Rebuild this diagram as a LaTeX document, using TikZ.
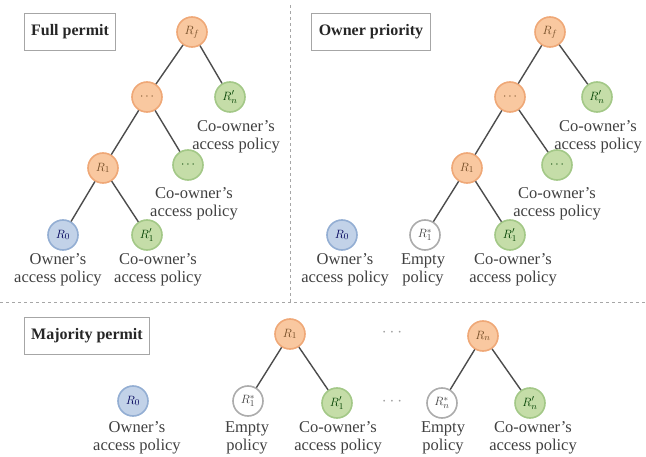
\documentclass[tikz,border=0pt]{standalone}
\usepackage{fontspec}
\setmainfont{Liberation Serif}
\definecolor{ofill}{HTML}{F9C8A0}
\definecolor{odraw}{HTML}{EFA877}
\definecolor{gfill}{HTML}{C5DDA8}
\definecolor{gdraw}{HTML}{A3C887}
\definecolor{bfill}{HTML}{C2D2E8}
\definecolor{bdraw}{HTML}{93AED3}
\begin{document}
\begin{tikzpicture}[x=1pt,y=-1pt,
  nd/.style={circle,minimum size=30pt,inner sep=0pt,line width=1.6pt,font=\fontsize{13}{13}\selectfont},
  orn/.style={nd,fill=ofill,draw=odraw,text=brown!60!black},
  grn/.style={nd,fill=gfill,draw=gdraw,text=green!25!black},
  blu/.style={nd,fill=bfill,draw=bdraw,text=blue!35!black},
  wht/.style={nd,fill=white,draw=gray!65,text=black!75},
  lbl/.style={align=center,font=\fontsize{16.5}{17.5}\selectfont,text=black!75,inner sep=0pt},
  ttl/.style={draw=gray!70,line width=1.2pt,font=\bfseries\fontsize{16}{16}\selectfont,inner xsep=7pt,inner ysep=11pt,text=black!85},
  edg/.style={draw=black!70,line width=1.4pt},
  sep/.style={draw=gray!70,dashed,line width=0.9pt},
  dots/.style={font=\bfseries\fontsize{16}{16}\selectfont,text=gray!75}]
\useasboundingbox (0,0) rectangle (646,457);
% separators
\coordinate (vt) at (290,5);
\coordinate (vb) at (290,302);
\coordinate (hl) at (0,302);
\coordinate (hr) at (646,302);
\draw[sep] (vt) -- (vb);
\draw[sep] (hl) -- (hr);
% titles
\node[ttl] (t1) at (70,32) {Full permit};
\node[ttl] (t2) at (371,32) {Owner priority};
\node[ttl] (t3) at (87,336) {Majority permit};
% ---- Full permit
\node[orn] (a0) at (192,32) {$R_f$};
\node[orn] (a1) at (147,97) {$\cdots$};
\node[grn] (a2) at (230,97) {$R'_n$};
\node[orn] (a3) at (103,168) {$R_1$};
\node[grn] (a4) at (188,165) {$\cdots$};
\node[blu] (a5) at (63,235) {$R_0$};
\node[grn] (a6) at (147,235) {$R'_1$};
\draw[edg] (a0) -- (a1); \draw[edg] (a0) -- (a2);
\draw[edg] (a1) -- (a3); \draw[edg] (a1) -- (a4);
\draw[edg] (a3) -- (a5); \draw[edg] (a3) -- (a6);
\node[lbl] (la2) at (236,137) {Co-owner's\\access policy};
\node[lbl] (la4) at (194,204) {Co-owner's\\access policy};
\node[lbl] (la5) at (58,270) {Owner's\\access policy};
\node[lbl] (la6) at (158,270) {Co-owner's\\access policy};
% ---- Owner priority
\node[orn] (b0) at (550,32) {$R_f$};
\node[orn] (b1) at (510,97) {$\cdots$};
\node[grn] (b2) at (597,97) {$R'_n$};
\node[orn] (b3) at (467,168) {$R_1$};
\node[grn] (b4) at (557,165) {$\cdots$};
\node[blu] (b5) at (342,235) {$R_0$};
\node[wht] (b6) at (425,235) {$R_1^{*}$};
\node[grn] (b7) at (510,235) {$R'_1$};
\draw[edg] (b0) -- (b1); \draw[edg] (b0) -- (b2);
\draw[edg] (b1) -- (b3); \draw[edg] (b1) -- (b4);
\draw[edg] (b3) -- (b6); \draw[edg] (b3) -- (b7);
\node[lbl] (lb2) at (598,137) {Co-owner's\\access policy};
\node[lbl] (lb4) at (557,204) {Co-owner's\\access policy};
\node[lbl] (lb5) at (345,270) {Owner's\\access policy};
\node[lbl] (lb6) at (423,270) {Empty\\policy};
\node[lbl] (lb7) at (513,270) {Co-owner's\\access policy};
% ---- Majority permit
\node[orn] (c0) at (290,334) {$R_1$};
\node[dots] (cd1) at (392,333) {$\cdots$};
\node[orn] (c1) at (483,336) {$R_n$};
\node[blu] (c2) at (133,401) {$R_0$};
\node[wht] (c3) at (248,401) {$R_1^{*}$};
\node[grn] (c4) at (337,403) {$R'_1$};
\node[dots] (cd2) at (392,402) {$\cdots$};
\node[wht] (c5) at (442,403) {$R_n^{*}$};
\node[grn] (c6) at (530,403) {$R'_n$};
\draw[edg] (c0) -- (c3); \draw[edg] (c0) -- (c4);
\draw[edg] (c1) -- (c5); \draw[edg] (c1) -- (c6);
\node[lbl] (lc2) at (137,438) {Owner's\\access policy};
\node[lbl] (lc3) at (247,438) {Empty\\policy};
\node[lbl] (lc4) at (338,438) {Co-owner's\\access policy};
\node[lbl] (lc5) at (443,438) {Empty\\policy};
\node[lbl] (lc6) at (533,438) {Co-owner's\\access policy};
\end{tikzpicture}
\end{document}
